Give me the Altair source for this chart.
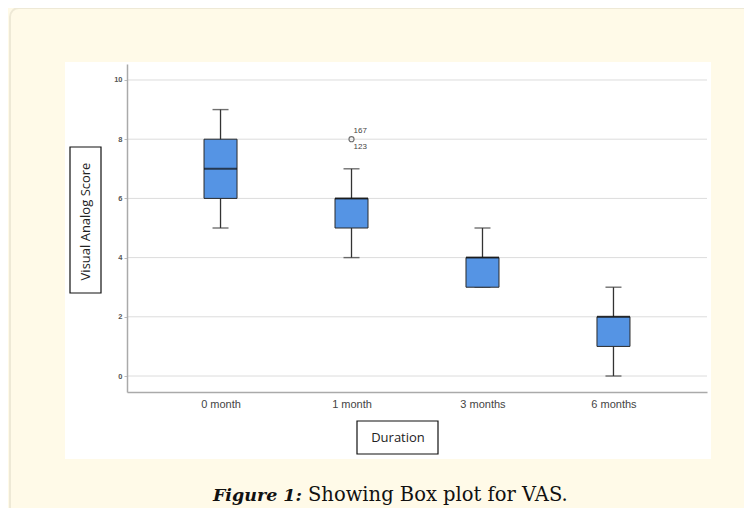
import altair as alt
import pandas as pd

# ---- data ----
categories = ["0 month", "1 month", "3 months", "6 months"]
whisker_low = [5, 4, 3, 0]
q1 = [6, 5, 3, 1]
median = [7, 6, 4, 2]
q3 = [8, 6, 4, 2]
whisker_high = [9, 7, 5, 3]

outlier_cat = ["1 month"]
outlier_val = [8]
outlier_label_top = ["167"]
outlier_label_bottom = ["123"]

y_ticks = [0, 2, 4, 6, 8, 10]

summary = pd.DataFrame({
    "Duration": categories,
    "lo": whisker_low, "q1": q1, "med": median, "q3": q3, "hi": whisker_high,
})
outliers = pd.DataFrame({
    "Duration": outlier_cat, "v": outlier_val,
    "top": outlier_label_top, "bottom": outlier_label_bottom,
})
grid = pd.DataFrame({"t": y_ticks})
one = pd.DataFrame({"k": [0]})

W, H = 580, 328
CREAM = "#FFFAE8"
SANS = "Arial, Liberation Sans, sans-serif"

xscale = alt.Scale(type="point", domain=categories, padding=0.714, align=0.5)
yscale = alt.Scale(domain=[-0.54, 10.54], nice=False, zero=False)

xenc = alt.X("Duration:N", scale=xscale, sort=categories,
             axis=alt.Axis(title="Duration", labelAngle=0, ticks=False, tickSize=0,
                           labelPadding=6, labelFont=SANS, labelFontSize=11,
                           labelColor="#444", domainColor="#aaa", domainWidth=1.5,
                           titleFont="Open Sans", titleFontSize=13, titleFontWeight="normal",
                           titleColor="#222", titleX=270.5, titleY=45,
                           titleAlign="center", titleBaseline="middle", grid=False, zindex=1))

yaxis = alt.Axis(title="Visual Analog Score", values=y_ticks, grid=False,
                 tickSize=3, tickColor="#bbb", labelPadding=2, labelFontSize=7.5,
                 labelFont=SANS, labelFontWeight="bold", labelColor="#555",
                 domainColor="#aaa", domainWidth=1.5,
                 titleFont="Open Sans", titleFontSize=13, titleFontWeight="normal",
                 titleColor="#222", titleX=-42, titleY=157, titleAngle=-90,
                 titleAlign="center", titleBaseline="middle", zindex=1)

# decorative frame pieces (page-like layout)
border = alt.Chart(one).mark_rect(fill=CREAM, stroke="#EEE9D6", strokeWidth=2,
                                  cornerRadius=9).encode(
    x=alt.value(-117), x2=alt.value(700), y=alt.value(-56), y2=alt.value(520))
white_bg = alt.Chart(one).mark_rect(fill="white").encode(
    x=alt.value(-62), x2=alt.value(584), y=alt.value(-2), y2=alt.value(395))
ytitle_box = alt.Chart(one).mark_rect(fill="white", stroke="#111", strokeWidth=1.2).encode(
    x=alt.value(-57), x2=alt.value(-26), y=alt.value(83), y2=alt.value(229))
xtitle_box = alt.Chart(one).mark_rect(fill="white", stroke="#111", strokeWidth=1.2).encode(
    x=alt.value(230), x2=alt.value(311), y=alt.value(357), y2=alt.value(390))

gridlines = alt.Chart(grid).mark_rule(color="#dcdcdc", strokeWidth=1).encode(
    y=alt.Y("t:Q", scale=yscale, axis=yaxis),
    x=alt.value(0), x2=alt.value(W))

base = alt.Chart(summary)
whisk = base.mark_rule(color="#333", strokeWidth=1.3).encode(
    x=xenc, y=alt.Y("lo:Q", scale=yscale), y2="hi:Q")
caps_lo = base.mark_tick(color="#333", size=16, thickness=1.4, orient="horizontal").encode(
    x=alt.X("Duration:N", scale=xscale), y=alt.Y("lo:Q", scale=yscale))
caps_hi = base.mark_tick(color="#333", size=16, thickness=1.4, orient="horizontal").encode(
    x=alt.X("Duration:N", scale=xscale), y=alt.Y("hi:Q", scale=yscale))
boxes = base.mark_bar(size=33, fill="#5594E4", stroke="#2a2a2a", strokeWidth=1).encode(
    x=alt.X("Duration:N", scale=xscale), y=alt.Y("q1:Q", scale=yscale), y2="q3:Q")
med = base.mark_tick(color="#111", size=33, thickness=2, orient="horizontal").encode(
    x=alt.X("Duration:N", scale=xscale), y=alt.Y("med:Q", scale=yscale))

ob = alt.Chart(outliers)
opts = ob.mark_point(shape="circle", size=26, filled=False, color="#333", strokeWidth=1.1).encode(
    x=alt.X("Duration:N", scale=xscale), y=alt.Y("v:Q", scale=yscale))
otop = ob.mark_text(font=SANS, fontSize=8, color="#444", align="left",
                    dx=2, dy=-8).encode(
    x=alt.X("Duration:N", scale=xscale), y=alt.Y("v:Q", scale=yscale), text="top:N")
obot = ob.mark_text(font=SANS, fontSize=8, color="#444", align="left",
                    dx=2, dy=8).encode(
    x=alt.X("Duration:N", scale=xscale), y=alt.Y("v:Q", scale=yscale), text="bottom:N")

cap1 = alt.Chart(one).mark_text(text="Figure 1:", font="DejaVu Serif", fontSize=17.5,
                                fontWeight="bold", fontStyle="italic", align="right",
                                baseline="alphabetic", color="#111").encode(
    x=alt.value(175), y=alt.value(437))
cap2 = alt.Chart(one).mark_text(text="Showing Box plot for VAS.", font="DejaVu Serif",
                                fontSize=19.5, align="left", baseline="alphabetic",
                                color="#111").encode(
    x=alt.value(181), y=alt.value(437))

chart = alt.layer(
    border, white_bg, ytitle_box, xtitle_box, gridlines,
    whisk, caps_lo, caps_hi, boxes, med, opts, otop, obot, cap1, cap2
).properties(
    width=W, height=H,
    autosize=alt.AutoSizeParams(type="none"),
    padding={"left": 119, "top": 56, "right": 37, "bottom": 116},
    background=CREAM,
).configure_view(stroke=None)

chart.save("out.html", embed_options={"renderer": "svg", "actions": False})
